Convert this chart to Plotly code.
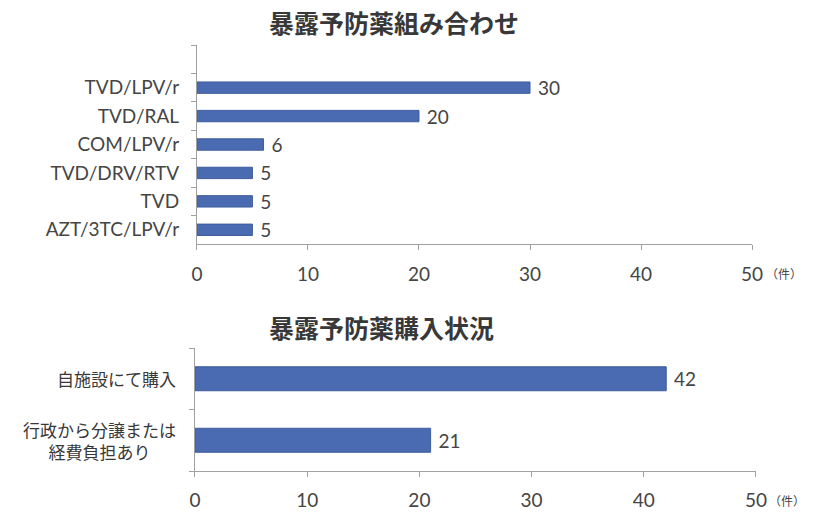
import plotly.graph_objects as go

# Top chart data
combo_labels = ["AZT/3TC/LPV/r", "TVD", "TVD/DRV/RTV", "COM/LPV/r", "TVD/RAL", "TVD/LPV/r"]
combo_counts = [5, 5, 5, 6, 20, 30]
combo_order = combo_labels + [" "]

# Bottom chart data
purchase_labels = ["行政から分譲または<br>経費負担あり", "自施設にて購入"]
purchase_counts = [21, 42]

x_ticks = [0, 10, 20, 30, 40, 50]

BAR = "#4a6bb2"
EDGE = "#3e5c9c"
TXT = "#454545"
LAT = "Lato, Liberation Sans, sans-serif"
CJK = "Noto Sans CJK JP, sans-serif"

fig = go.Figure()
fig.add_trace(go.Bar(
    y=combo_labels, x=combo_counts, orientation="h",
    marker=dict(color=BAR, line=dict(color=EDGE, width=1)),
    texttemplate=" %{x}", textposition="outside", constraintext="none",
    textfont=dict(family=LAT, size=19, color=TXT), cliponaxis=False,
    xaxis="x", yaxis="y", showlegend=False, width=0.4,
))
fig.add_trace(go.Bar(
    y=purchase_labels, x=purchase_counts, orientation="h",
    marker=dict(color=BAR, line=dict(color=EDGE, width=1)),
    texttemplate=" %{x}", textposition="outside", constraintext="none",
    textfont=dict(family=LAT, size=19, color=TXT), cliponaxis=False,
    xaxis="x2", yaxis="y2", showlegend=False, width=0.39,
))

axis_line = dict(showline=True, linecolor="#a0a0a0", linewidth=1, ticks="outside",
                 tickcolor="#a0a0a0", ticklen=5, showgrid=False, zeroline=False)

fig.update_layout(
    width=813, height=513,
    margin=dict(l=0, r=0, t=0, b=0),
    paper_bgcolor="white", plot_bgcolor="white",
    xaxis=dict(domain=[195/813, 762/813], range=[0, 50], tickvals=x_ticks,
               anchor="y", tickfont=dict(family=LAT, size=19, color=TXT),
               ticklabelstandoff=8, **axis_line),
    yaxis=dict(domain=[1-244/513, 1-45/513], type="category",
               categoryorder="array", categoryarray=combo_order,
               range=[-0.5, 6.5], tickson="boundaries", anchor="x",
               ticklabelstandoff=13,
               tickfont=dict(family=LAT, size=19, color=TXT), **axis_line),
    xaxis2=dict(domain=[193/813, 766/813], range=[0, 50], tickvals=x_ticks,
                anchor="y2", tickfont=dict(family=LAT, size=19, color=TXT),
                ticklabelstandoff=7, **axis_line),
    yaxis2=dict(domain=[1-471/513, 1-348/513], type="category",
                categoryorder="array", categoryarray=purchase_labels,
                range=[-0.5, 1.5], tickson="boundaries", anchor="x2",
                showticklabels=False, **axis_line),
)

annotations = [
    dict(text="<b>暴露予防薬組み合わせ</b>", x=396/813, y=1-22/513, xref="paper", yref="paper",
         xanchor="center", yanchor="middle",
         showarrow=False, font=dict(family=CJK, size=25, color="#383838")),
    dict(text="<b>暴露予防薬購入状況</b>", x=384/813, y=1-327/513, xref="paper", yref="paper",
         xanchor="center", yanchor="middle",
         showarrow=False, font=dict(family=CJK, size=25, color="#383838")),
    dict(text="（件）", x=795/813, y=1-273/513, xref="paper", yref="paper",
         xanchor="center", yanchor="middle",
         showarrow=False, font=dict(family=CJK, size=12, color=TXT)),
    dict(text="（件）", x=798/813, y=1-500/513, xref="paper", yref="paper",
         xanchor="center", yanchor="middle",
         showarrow=False, font=dict(family=CJK, size=12, color=TXT)),
]
for lab in purchase_labels:
    annotations.append(dict(text=lab, x=0, xref="x2 domain", y=lab, yref="y2",
                            xanchor="right", yanchor="middle", xshift=-17,
                            showarrow=False, align="center",
                            font=dict(family=CJK, size=17, color="#383838")))
fig.update_layout(annotations=annotations)

fig.write_html("out.html", config={"displayModeBar": False},
               post_script="document.body.style.margin='0';")
